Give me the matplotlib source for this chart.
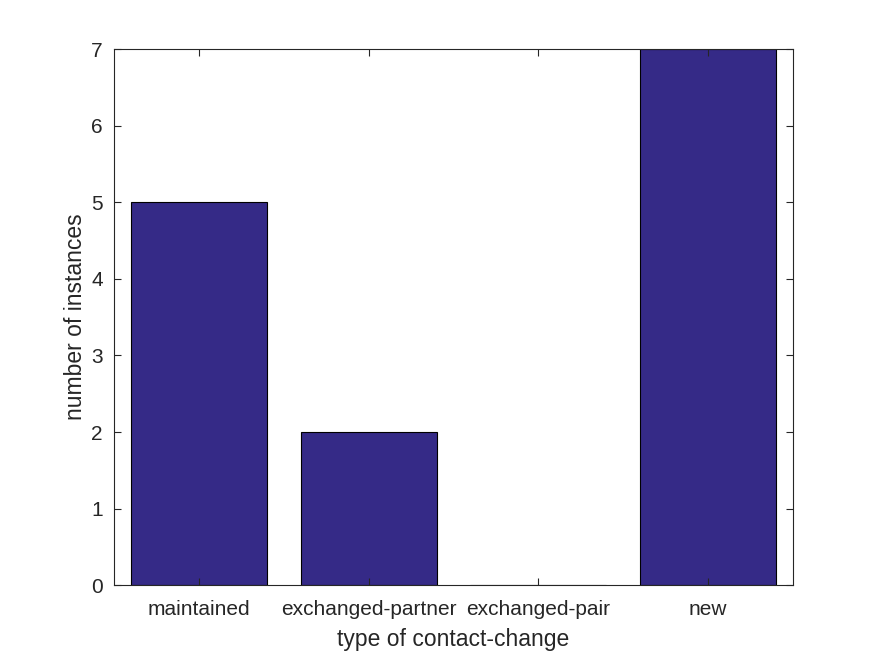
import numpy as np
import matplotlib.pyplot as plt

categories = ['maintained', 'exchanged-partner', 'exchanged-pair', 'new']
counts = [5, 2, 0, 7]

plt.rcParams['font.family'] = ['Liberation Sans', 'DejaVu Sans']

fig = plt.figure(figsize=(8.75, 6.56), dpi=100)
ax = fig.add_axes([0.1303, 0.108, 0.776, 0.817])

x = np.arange(1, len(categories) + 1)
ax.bar(x, counts, width=0.8, color='#352a87', edgecolor='black', linewidth=0.8)

ax.set_xlim(0.5, len(categories) + 0.5)
ax.set_ylim(0, 7)
ax.set_xticks(x)
ax.set_xticklabels(categories)
ax.set_yticks(range(0, 8))

ax.tick_params(direction='in', top=True, right=True, length=5, width=0.8,
               colors='#262626', labelsize=15)
ax.tick_params(axis='x', pad=11)
ax.tick_params(axis='y', pad=8)
for s in ax.spines.values():
    s.set_color('#262626')
    s.set_linewidth(0.8)

ax.set_xlabel('type of contact-change', fontsize=16.5, color='#262626', labelpad=6)
ax.set_ylabel('number of instances', fontsize=16.5, color='#262626', labelpad=3)

fig.savefig('out.png', dpi=100)
